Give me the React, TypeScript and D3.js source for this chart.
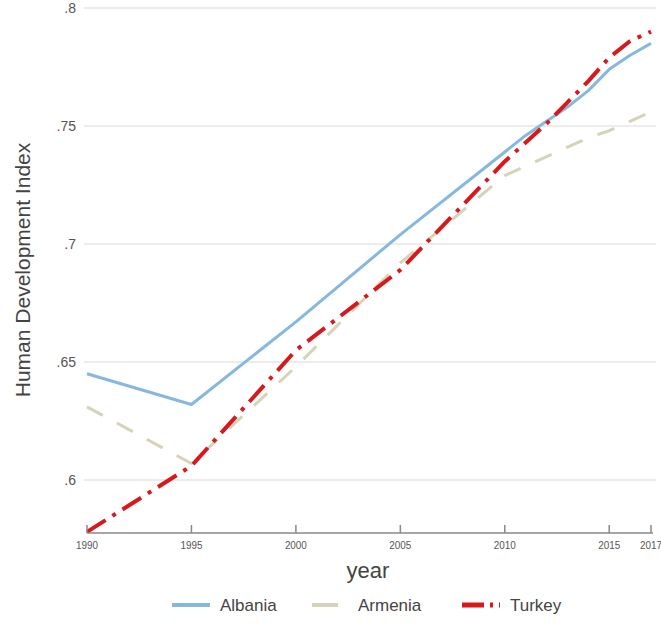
import React from "react";
import * as d3 from "d3";

const years = [1990, 1995, 2000, 2005, 2010, 2011, 2012, 2013, 2014, 2015, 2016, 2017];
const albania = [0.645, 0.632, 0.667, 0.704, 0.739, 0.746, 0.752, 0.758, 0.765, 0.774, 0.780, 0.785];
const armenia = [0.631, 0.607, 0.648, 0.692, 0.729, 0.733, 0.737, 0.741, 0.745, 0.748, 0.752, 0.756];
const turkey = [0.578, 0.606, 0.655, 0.689, 0.735, 0.743, 0.751, 0.760, 0.769, 0.779, 0.786, 0.790];
const xTicks = [1990, 1995, 2000, 2005, 2010, 2015, 2017];
const yTicks = [0.6, 0.65, 0.7, 0.75, 0.8];
const yTickLabels = [".6", ".65", ".7", ".75", ".8"];

const seriesNames = ["Albania", "Armenia", "Turkey"];
const seriesData = [albania, armenia, turkey];
const colors = ["#86b8df", "#d6d3b8", "#d7191c"];
const dashes = [undefined, "18,16", "22,8,4,8"];
const widths = [3, 3, 4];

export default function App() {
  const W = 661, H = 636;
  const x = d3.scaleLinear().domain([1990, 2017]).range([87, 651]);
  const y = d3.scaleLinear().domain([0.6, 0.8]).range([480, 8]);
  const yBottom = 533;
  const font = "'Liberation Sans', Arial, sans-serif";
  const line = d3.line<number>().x((_, i) => x(years[i])).y((d) => y(d));
  const legendX = [172, 312, 462];
  return (
    <svg width={W} height={H} style={{ position: "absolute", left: 0, top: 0, background: "#fff" }} fontFamily={font}>
      <rect width={W} height={H} fill="#fff" />
      {yTicks.map((t, i) => (
        <g key={t}>
          <line x1={84} x2={656} y1={y(t)} y2={y(t)} stroke="#e6e6e6" strokeWidth={1.5} />
          <text x={76} y={y(t) + 5} textAnchor="end" fontSize={14} fill="#555">{yTickLabels[i]}</text>
        </g>
      ))}
      {seriesData.map((s, i) => (
        <path key={i} d={line(s) || ""} fill="none" stroke={colors[i]} strokeWidth={widths[i]}
          strokeDasharray={dashes[i]} strokeLinejoin="round" />
      ))}
      <line x1={87} x2={653} y1={yBottom} y2={yBottom} stroke="#888" strokeWidth={1.5} />
      {xTicks.map((t) => (
        <g key={t}>
          <line x1={x(t)} x2={x(t)} y1={yBottom} y2={yBottom - 8} stroke="#888" strokeWidth={1.5} />
          <text x={x(t)} y={yBottom + 16} textAnchor="middle" fontSize={10} fill="#555" textLength={22} lengthAdjust="spacingAndGlyphs">{t}</text>
        </g>
      ))}
      <text x={368} y={578} textAnchor="middle" fontSize={22} fill="#444">year</text>
      <text transform={`translate(30,270) rotate(-90)`} textAnchor="middle" fontSize={21} fill="#444">Human Development Index</text>
      {seriesNames.map((n, i) => (
        <g key={n}>
          <line x1={legendX[i]} x2={legendX[i] + 38} y1={605} y2={605} stroke={colors[i]} strokeWidth={widths[i] + 1}
            strokeDasharray={i === 1 ? "26,40" : i === 2 ? "22,6,3,6" : undefined} />
          <text x={legendX[i] + (i === 1 ? 46 : 48)} y={611} fontSize={17} fill="#444">{n}</text>
        </g>
      ))}
    </svg>
  );
}
